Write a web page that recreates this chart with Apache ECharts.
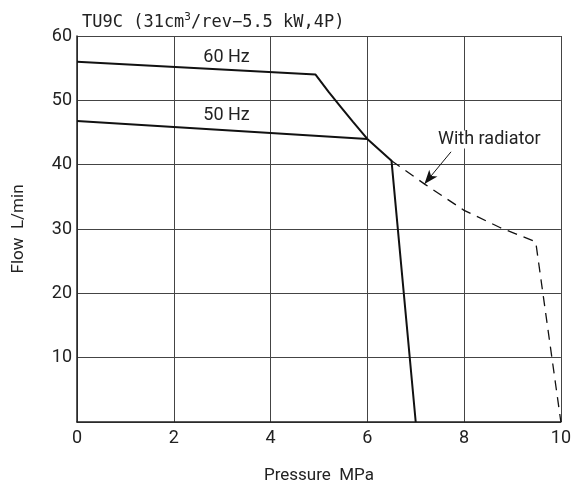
<!DOCTYPE html>
<html><head><meta charset="utf-8">
<script src="https://cdn.jsdelivr.net/npm/echarts@6/dist/echarts.min.js"></script>
<style>html,body{margin:0;padding:0;background:#fff}#c{width:574px;height:493px}</style>
</head><body><div id="c"></div>
<script>
var xTicks = [0, 2, 4, 6, 8, 10];
var yTicks = [10, 20, 30, 40, 50, 60];
var hz60 = [[0, 56], [4.93, 54], [5.2, 51.3], [5.45, 49], [5.7, 46.7], [6, 44], [6.5, 40.6], [7.0, 0]];
var hz50 = [[0, 46.8], [6, 44]];
var radiator = [[6.5, 40.6], [7.2, 36.9], [8.0, 32.9], [8.75, 30.2], [9.48, 28], [10, 0]];
var arrowFrom = [7.73, 42.0];
var arrowTo = [7.18, 37.0];
var labels = [
  { name: '60 Hz', coord: [3.09, 56.7] },
  { name: '50 Hz', coord: [3.09, 47.7] },
  { name: 'With radiator', coord: [8.52, 43.9] }
];

var chart = echarts.init(document.getElementById('c'), null, { renderer: 'canvas' });
var font = 'Roboto, Liberation Sans, sans-serif';
chart.setOption({
  animation: false,
  backgroundColor: '#fff',
  title: {
    text: '{t|TU9C (31cm}{s|3}{t|/rev\u22125.5 kW,4P)}',
    left: 77, top: 7,
    textStyle: {
      fontWeight: 'normal',
      rich: {
        t: { fontFamily: 'DejaVu Sans Mono, Liberation Mono, monospace', fontSize: 17, fontWeight: 'normal', color: '#222', verticalAlign: 'bottom' },
        s: { fontFamily: 'DejaVu Sans Mono, Liberation Mono, monospace', fontSize: 11, fontWeight: 'normal', color: '#222', verticalAlign: 'top', padding: [0, 0, 8, 0] }
      }
    }
  },
  grid: { left: 77, right: 12, top: 36, bottom: 71, containLabel: false },
  xAxis: {
    type: 'value', min: 0, max: 10, interval: 2,
    name: 'Pressure  MPa', nameLocation: 'middle', nameGap: 45,
    nameTextStyle: { fontFamily: font, fontSize: 17, color: '#222' },
    axisLine: { show: true, lineStyle: { color: '#222', width: 1.5 } },
    axisTick: { show: false },
    axisLabel: { fontFamily: font, fontSize: 18, color: '#222', margin: 7 },
    splitLine: { show: true, lineStyle: { color: '#444', width: 1 } }
  },
  yAxis: {
    type: 'value', min: 0, max: 60, interval: 10,
    name: 'Flow  L/min', nameLocation: 'middle', nameGap: 50, nameRotate: 90,
    nameTextStyle: { fontFamily: font, fontSize: 17, color: '#222' },
    axisLine: { show: true, lineStyle: { color: '#222', width: 1.5 } },
    axisTick: { show: false },
    axisLabel: { fontFamily: font, fontSize: 18, color: '#222', margin: 5,
      formatter: function (v) { return v === 0 ? '' : String(v); } },
    splitLine: { show: true, lineStyle: { color: '#444', width: 1 } }
  },
  series: [
    { type: 'line', data: hz60, symbol: 'none', smooth: false,
      lineStyle: { color: '#111', width: 2 } },
    { type: 'line', data: hz50, symbol: 'none',
      lineStyle: { color: '#111', width: 2 } },
    { type: 'line', data: radiator, symbol: 'none',
      lineStyle: { color: '#111', width: 1.3, type: [10, 7] },
      markLine: {
        silent: true, symbol: ['none', 'arrow'], symbolSize: [8, 14],
        label: { show: false },
        lineStyle: { color: '#111', width: 1, type: 'solid' },
        data: [[{ coord: arrowFrom }, { coord: arrowTo }]]
      },
      markPoint: {
        silent: true, symbol: 'circle', symbolSize: 0,
        label: { show: true, position: 'inside', fontFamily: font, fontSize: 18, color: '#222' },
        data: labels.map(function (l) { return { name: l.name, coord: l.coord, value: l.name,
          label: { formatter: l.name, backgroundColor: l.name === 'With radiator' ? '#fff' : 'transparent', padding: [0, 1] } }; })
      }
    }
  ]
});
</script></body></html>
